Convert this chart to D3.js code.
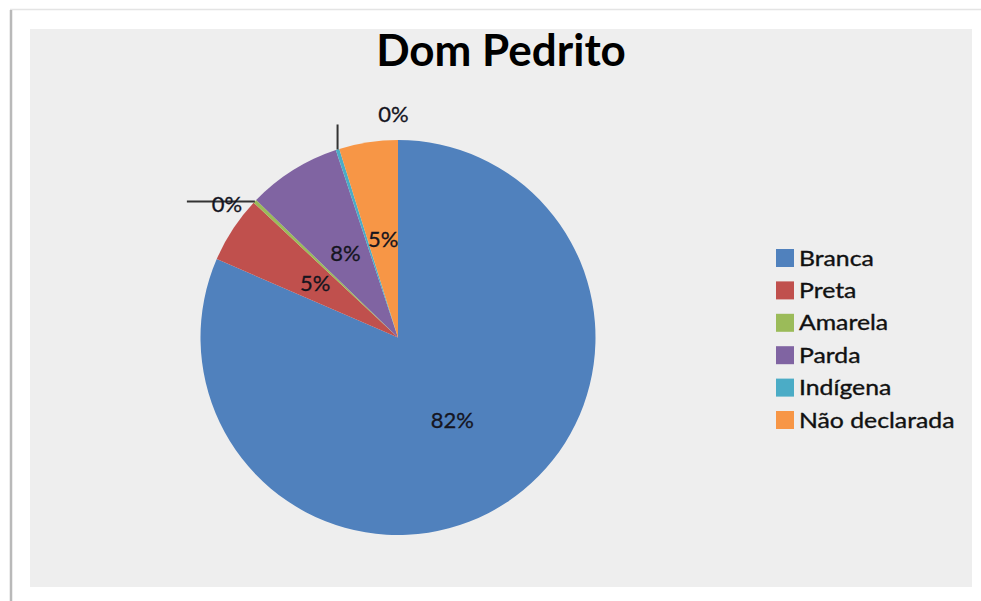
<!DOCTYPE html>
<html><head><meta charset="utf-8">
<script src="https://cdn.jsdelivr.net/npm/d3@7"></script>
<style>html,body{margin:0;padding:0;background:#fff;}</style>
</head><body>
<svg id="c" width="981" height="601"></svg>
<script>
const title = "Dom Pedrito";
const categories = ["Branca", "Preta", "Amarela", "Parda", "Indígena", "Não declarada"];
const values = [81.5, 5.45, 0.3, 7.65, 0.3, 4.8];
const colors = ["#5081BD", "#C0504D", "#9BBB59", "#8064A2", "#4BACC6", "#F79646"];

const svg = d3.select("#c");
const font = "Lato, 'Open Sans', sans-serif";

// frame
svg.append("line").attr("x1", 10).attr("y1", 9.5).attr("x2", 981).attr("y2", 9.5).attr("stroke", "#e4e4e4").attr("stroke-width", 1.5);
svg.append("line").attr("x1", 11).attr("y1", 10).attr("x2", 11).attr("y2", 601).attr("stroke", "#b9b9b9").attr("stroke-width", 2.5);
svg.append("rect").attr("x", 30).attr("y", 29).attr("width", 942).attr("height", 558).attr("fill", "#eeeeee");

svg.append("text").attr("x", 501).attr("y", 66).attr("text-anchor", "middle")
  .attr("font-family", font).attr("font-weight", "bold").attr("font-size", 44)
  .attr("fill", "#000").text(title);

const cx = 398, cy = 337.5, R = 197.5;
const pie = d3.pie().sort(null).value(d => d)(values);
const arc = d3.arc().innerRadius(0).outerRadius(R);
const g = svg.append("g").attr("transform", `translate(${cx},${cy})`);
g.selectAll("path").data(pie).join("path").attr("d", arc).attr("fill", (d, i) => colors[i]);

const fmt = v => Math.round(v) + "%";
const labStyle = t => t.attr("font-family", font).attr("font-size", 22).attr("fill", "#15151f")
  .attr("stroke", "#15151f").attr("stroke-width", 0.3).attr("text-anchor", "middle").attr("dy", "0.35em");
pie.forEach((d, i) => {
  const mid = (d.startAngle + d.endAngle) / 2;
  if (values[i] >= 1) {
    const r = 99;
    const x = Math.sin(mid) * r, y = -Math.cos(mid) * r;
    g.append("text").attr("x", x).attr("y", y).call(labStyle).text(fmt(values[i]));
  } else {
    const ex = Math.sin(mid) * R, ey = -Math.cos(mid) * R;
    if (Math.abs(Math.sin(mid)) > 0.65) {
      g.append("line").attr("x1", ex).attr("y1", ey).attr("x2", ex - 68).attr("y2", ey)
        .attr("stroke", "#333").attr("stroke-width", 2);
      g.append("text").attr("x", ex - 28).attr("y", ey + 3).call(labStyle).text(fmt(values[i]));
    } else {
      g.append("line").attr("x1", ex).attr("y1", ey).attr("x2", ex).attr("y2", ey - 25)
        .attr("stroke", "#333").attr("stroke-width", 2);
      g.append("text").attr("x", ex + 56).attr("y", ey - 35).call(labStyle).text(fmt(values[i]));
    }
  }
});

// legend
const lg = svg.append("g").attr("transform", "translate(776,258)");
categories.forEach((c, i) => {
  const row = lg.append("g").attr("transform", `translate(0,${i * 32.4})`);
  row.append("rect").attr("x", 0).attr("y", -9).attr("width", 18).attr("height", 18).attr("fill", colors[i]);
  row.append("text").attr("transform", "translate(23,0) scale(1.18,1)").attr("dy", "0.36em")
    .attr("font-family", font).attr("font-size", 21).attr("fill", "#111")
    .attr("stroke", "#111").attr("stroke-width", 0.35).text(c);
});
</script>
</body></html>
